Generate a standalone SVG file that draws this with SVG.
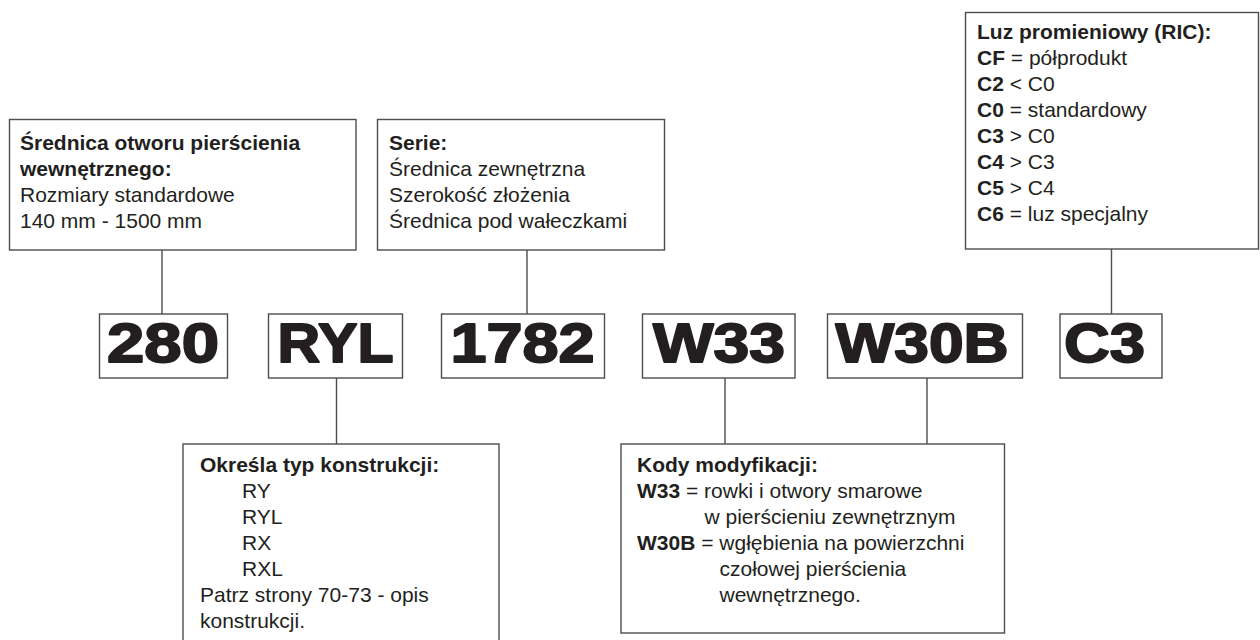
<svg xmlns="http://www.w3.org/2000/svg" width="1260" height="640" viewBox="0 0 1260 640">
<style>
.box{fill:#fff;stroke:#4d4d4d;stroke-width:1.4}
.ln{stroke:#4d4d4d;stroke-width:1.4;fill:none}
.t{font-family:"Liberation Sans",Arial,sans-serif;font-size:21px;fill:#231f20}
.b{font-weight:bold}
.code{font-family:"Liberation Sans",Arial,sans-serif;font-size:56px;font-weight:bold;fill:#231f20;stroke:#231f20;stroke-width:1.9;stroke-linejoin:round;text-anchor:middle}
</style>
<rect width="1260" height="640" fill="#fff"/>
<g id="connectors">
<line class="ln" x1="162" y1="250" x2="162" y2="314"/>
<line class="ln" x1="527" y1="250" x2="527" y2="314"/>
<line class="ln" x1="1111.5" y1="249" x2="1111.5" y2="314"/>
<line class="ln" x1="336.5" y1="378" x2="336.5" y2="444"/>
<line class="ln" x1="725" y1="378" x2="725" y2="444"/>
<line class="ln" x1="927" y1="378" x2="927" y2="444"/>
</g>
<g id="box-srednica">
<rect class="box" x="9.5" y="119.5" width="346.5" height="130.5"/>
<text class="t b" x="20" y="150">Średnica otworu pierścienia</text>
<text class="t b" x="20" y="176">wewnętrznego:</text>
<text class="t" x="20" y="202">Rozmiary standardowe</text>
<text class="t" x="20" y="228">140 mm - 1500 mm</text>
</g>
<g id="box-serie">
<rect class="box" x="377.5" y="119.5" width="287" height="130.5"/>
<text class="t b" x="389" y="150">Serie:</text>
<text class="t" x="389" y="176">Średnica zewnętrzna</text>
<text class="t" x="389" y="202">Szerokość złożenia</text>
<text class="t" x="389" y="228">Średnica pod wałeczkami</text>
</g>
<g id="box-ric">
<rect class="box" x="965.5" y="12.5" width="293" height="236.5"/>
<text class="t b" x="977" y="39">Luz promieniowy (RIC):</text>
<text class="t" x="977" y="65"><tspan class="b">CF</tspan> = półprodukt</text>
<text class="t" x="977" y="91"><tspan class="b">C2</tspan> &lt; C0</text>
<text class="t" x="977" y="117"><tspan class="b">C0</tspan> = standardowy</text>
<text class="t" x="977" y="143"><tspan class="b">C3</tspan> &gt; C0</text>
<text class="t" x="977" y="169"><tspan class="b">C4</tspan> &gt; C3</text>
<text class="t" x="977" y="195"><tspan class="b">C5</tspan> &gt; C4</text>
<text class="t" x="977" y="221"><tspan class="b">C6</tspan> = luz specjalny</text>
</g>
<g id="code-280">
<rect class="box" x="99.5" y="314" width="128" height="64"/>
<text class="code" x="163" y="362" textLength="112" lengthAdjust="spacingAndGlyphs">280</text>
</g>
<g id="code-RYL">
<rect class="box" x="268.5" y="314" width="134" height="64"/>
<text class="code" x="335.5" y="362" textLength="116" lengthAdjust="spacingAndGlyphs">RYL</text>
</g>
<g id="code-1782">
<rect class="box" x="441.5" y="314" width="163" height="64"/>
<text class="code" x="522.5" y="362" textLength="144" lengthAdjust="spacingAndGlyphs">1782</text>
</g>
<g id="code-W33">
<rect class="box" x="642.5" y="314" width="152.5" height="64"/>
<text class="code" x="719" y="362" textLength="132" lengthAdjust="spacingAndGlyphs">W33</text>
</g>
<g id="code-W30B">
<rect class="box" x="827.5" y="314" width="195" height="64"/>
<text class="code" x="922" y="362" textLength="173" lengthAdjust="spacingAndGlyphs">W30B</text>
</g>
<g id="code-C3">
<rect class="box" x="1060" y="314" width="102" height="64"/>
<text class="code" x="1104.5" y="362" textLength="81" lengthAdjust="spacingAndGlyphs">C3</text>
</g>
<g id="box-okresla">
<rect class="box" x="183" y="444" width="316" height="205"/>
<text class="t b" x="200" y="472">Określa typ konstrukcji:</text>
<text class="t" x="242" y="498">RY</text>
<text class="t" x="242" y="524">RYL</text>
<text class="t" x="242" y="550">RX</text>
<text class="t" x="242" y="576">RXL</text>
<text class="t" x="200" y="602">Patrz strony 70-73 - opis</text>
<text class="t" x="200" y="628">konstrukcji.</text>
</g>
<g id="box-kody">
<rect class="box" x="621" y="444" width="383.5" height="189"/>
<text class="t b" x="637" y="472">Kody modyfikacji:</text>
<text class="t" x="637" y="498"><tspan class="b">W33</tspan> = rowki i otwory smarowe</text>
<text class="t" x="704.5" y="524">w pierścieniu zewnętrznym</text>
<text class="t" x="637" y="550"><tspan class="b">W30B</tspan> = wgłębienia na powierzchni</text>
<text class="t" x="719.5" y="576">czołowej pierścienia</text>
<text class="t" x="719.5" y="602">wewnętrznego.</text>
</g>
</svg>
